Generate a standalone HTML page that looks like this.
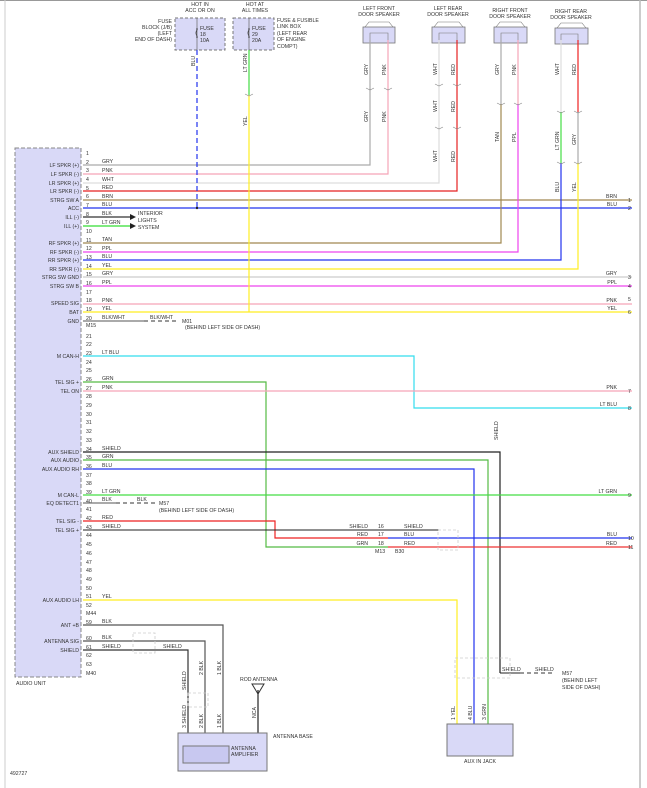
<!DOCTYPE html>
<html><head><meta charset="utf-8"><style>
html,body{margin:0;padding:0;background:#fff}
svg{display:block}
text{font-family:"Liberation Sans",sans-serif;font-size:5.2px;fill:#333}
.r{text-anchor:end}
.m{text-anchor:middle}
</style></head><body>
<svg width="647" height="788" viewBox="0 0 647 788" xmlns="http://www.w3.org/2000/svg">
<line x1="0" y1="0.5" x2="647" y2="0.5" stroke="#999" stroke-width="1"/>
<line x1="640" y1="0" x2="640" y2="788" stroke="#bbb" stroke-width="1.5"/>
<line x1="5" y1="0" x2="5" y2="788" stroke="#ccc" stroke-width="1"/>

<!-- Fuse boxes -->
<rect x="175" y="18" width="50" height="32" fill="#d9d9f7" stroke="#777" stroke-dasharray="3,2"/>
<rect x="233" y="18" width="41" height="32" fill="#d9d9f7" stroke="#777" stroke-dasharray="3,2"/>
<line x1="197" y1="18" x2="197" y2="50" stroke="#666" stroke-width="0.7"/>
<line x1="249" y1="18" x2="249" y2="50" stroke="#666" stroke-width="0.7"/>
<path d="M197 30 q-2 3 0 6 M249 30 q-2 3 0 6" fill="none" stroke="#333" stroke-width="0.8"/>
<circle cx="197" cy="29" r="0.8" fill="#333"/><circle cx="197" cy="37" r="0.8" fill="#333"/>
<circle cx="249" cy="29" r="0.8" fill="#333"/><circle cx="249" cy="37" r="0.8" fill="#333"/>
<text x="200" y="6" class="m">HOT IN</text><text x="200" y="12" class="m">ACC OR ON</text>
<text x="255" y="6" class="m">HOT AT</text><text x="255" y="12" class="m">ALL TIMES</text>
<text x="172" y="23" class="r">FUSE</text><text x="172" y="29" class="r">BLOCK (J/B)</text><text x="172" y="35" class="r">(LEFT</text><text x="172" y="41" class="r">END OF DASH)</text>
<text x="200" y="30">FUSE</text><text x="200" y="36">18</text><text x="200" y="42">10A</text>
<text x="252" y="30">FUSE</text><text x="252" y="36">29</text><text x="252" y="42">20A</text>
<text x="277" y="22">FUSE &amp; FUSIBLE</text><text x="277" y="28">LINK BOX</text><text x="277" y="35">(LEFT REAR</text><text x="277" y="41">OF ENGINE</text><text x="277" y="48">COMPT)</text>

<!-- Audio unit box -->
<rect x="15" y="148" width="66" height="529" fill="#d9d9f7" stroke="#888" stroke-dasharray="4,2"/>
<text x="16" y="685">AUDIO UNIT</text>
<text x="10" y="775">492727</text>

<!-- Speakers -->
<g fill="#d9d9f7" stroke="#777" stroke-width="0.8">
<rect x="363" y="27" width="32" height="16"/><rect x="432" y="27" width="33" height="16"/>
<rect x="494" y="27" width="33" height="16"/><rect x="555" y="28" width="33" height="16"/>
</g>
<g fill="none" stroke="#777" stroke-width="0.6">
<path d="M365 27 L369 22 L389 22 L393 27"/><path d="M434 27 L438 22 L459 22 L463 27"/>
<path d="M496 27 L500 22 L521 22 L525 27"/><path d="M557 28 L561 23 L582 23 L586 28"/>
<path d="M370 40 v-7 h18 v7"/><path d="M439 40 v-7 h18 v7"/><path d="M501 40 v-7 h17 v7"/><path d="M561 41 v-7 h17 v7"/>
</g>
<text x="379" y="10" class="m">LEFT FRONT</text><text x="379" y="16" class="m">DOOR SPEAKER</text>
<text x="448" y="10" class="m">LEFT REAR</text><text x="448" y="16" class="m">DOOR SPEAKER</text>
<text x="510" y="12" class="m">RIGHT FRONT</text><text x="510" y="18" class="m">DOOR SPEAKER</text>
<text x="571" y="13" class="m">RIGHT REAR</text><text x="571" y="19" class="m">DOOR SPEAKER</text>

<!-- Wires -->
<g fill="none" stroke-width="1.2">
<polyline points="83,165 370,165 370,40" stroke="#aaa"/>
<polyline points="83,174 388,174 388,40" stroke="#f5a5b8"/>
<polyline points="83,183 439,183 439,40" stroke="#ddd"/>
<polyline points="83,191 457,191 457,40" stroke="#e52222"/>
<polyline points="83,200 632,200" stroke="#a08850"/>
<polyline points="83,208 632,208" stroke="#2233ee"/>
<line x1="197" y1="50" x2="197" y2="208" stroke="#2233ee" stroke-dasharray="5,3"/>
<polyline points="83,217 130,217" stroke="#333"/>
<polyline points="83,226 130,226" stroke="#33dd33"/>
<polyline points="83,243 501,243 501,104" stroke="#a08850"/>
<line x1="501" y1="104" x2="501" y2="40" stroke="#aaa"/>
<polyline points="83,252 518,252 518,104" stroke="#ee44ee"/>
<line x1="518" y1="104" x2="518" y2="40" stroke="#f5a5b8"/>
<polyline points="83,260 561,260 561,163" stroke="#2233ee"/>
<line x1="561" y1="163" x2="561" y2="112" stroke="#44dd44"/>
<line x1="561" y1="112" x2="561" y2="40" stroke="#ddd"/>
<polyline points="83,269 578,269 578,163" stroke="#ffee22"/>
<line x1="578" y1="163" x2="578" y2="112" stroke="#aaa"/>
<line x1="578" y1="112" x2="578" y2="40" stroke="#ee2222"/>
<line x1="83" y1="277" x2="632" y2="277" stroke="#ccc"/>
<line x1="83" y1="286" x2="632" y2="286" stroke="#ee44ee"/>
<line x1="83" y1="304" x2="632" y2="304" stroke="#f5a5b8"/>
<line x1="83" y1="312" x2="632" y2="312" stroke="#ffee22"/>
<line x1="249" y1="50" x2="249" y2="95" stroke="#44dd44"/>
<line x1="249" y1="95" x2="249" y2="312" stroke="#ffee22"/>
<line x1="83" y1="321" x2="144" y2="321" stroke="#555" stroke-width="1"/>
<line x1="144" y1="321" x2="178" y2="321" stroke="#333" stroke-width="1" stroke-dasharray="4,3"/>
<polyline points="83,356 414,356 414,408 632,408" stroke="#33ddee"/>
<polyline points="83,382 266,382 266,547 388,547" stroke="#55bb44"/>
<line x1="83" y1="391" x2="632" y2="391" stroke="#f5a5b8"/>
<polyline points="83,452 500,452 500,673" stroke="#222"/>
<polyline points="83,460 488,460 488,724" stroke="#55bb44"/>
<polyline points="83,469 474,469 474,724" stroke="#2233ee"/>
<line x1="83" y1="495" x2="632" y2="495" stroke="#44dd44"/>
<line x1="83" y1="503" x2="116" y2="503" stroke="#555" stroke-width="1"/>
<line x1="116" y1="503" x2="155" y2="503" stroke="#333" stroke-width="1" stroke-dasharray="4,3"/>
<polyline points="83,521 275,521 275,538 388,538" stroke="#ee2222"/>
<polyline points="83,530 439,530" stroke="#222" stroke-width="1"/>
<line x1="388" y1="538" x2="632" y2="538" stroke="#2233ee"/>
<line x1="388" y1="547" x2="632" y2="547" stroke="#ee3333"/>
<polyline points="83,600 457,600 457,724" stroke="#ffee22"/>
<polyline points="83,625 223,625 223,733" stroke="#555"/>
<polyline points="83,641 205,641 205,733" stroke="#555"/>
<polyline points="83,650 188,650 188,733" stroke="#333"/>
<polyline points="500,673 520,673" stroke="#222" stroke-width="1"/>
<line x1="520" y1="673" x2="555" y2="673" stroke="#333" stroke-width="1" stroke-dasharray="4,3"/>
<line x1="258" y1="690" x2="258" y2="733" stroke="#222"/>
</g>
<!-- connector marks -->
<g fill="none" stroke="#888" stroke-width="0.6">
<path d="M366 88 l4 2 l4 -2 M384 88 l4 2 l4 -2"/>
<path d="M435 84 l4 2 l4 -2 M453 84 l4 2 l4 -2 M435 127 l4 2 l4 -2 M453 127 l4 2 l4 -2"/>
<path d="M497 103 l4 2 l4 -2 M514 103 l4 2 l4 -2"/>
<path d="M557 111 l4 2 l4 -2 M574 111 l4 2 l4 -2 M557 162 l4 2 l4 -2 M574 162 l4 2 l4 -2"/>
<path d="M245 94 l4 2 l4 -2"/>
</g>
<polygon points="130,214 136,217 130,220" fill="#222"/>
<polygon points="130,223 136,226 130,229" fill="#222"/>
<circle cx="197" cy="208" r="1.2" fill="#222"/>
<text x="138" y="215">INTERIOR</text><text x="138" y="222">LIGHTS</text><text x="138" y="229">SYSTEM</text>
<text x="150" y="319">BLK/WHT</text><text x="182" y="323">M01</text><text x="185" y="329">(BEHIND LEFT SIDE OF DASH)</text>
<text x="137" y="501">BLK</text><text x="159" y="505">M57</text><text x="159" y="512">(BEHIND LEFT SIDE OF DASH)</text>
<text x="502" y="671">SHIELD</text><text x="535" y="671">SHIELD</text><text x="562" y="675">M57</text><text x="562" y="682">(BEHIND LEFT</text><text x="562" y="689">SIDE OF DASH)</text>

<!-- shield dashed boxes -->
<g fill="none" stroke="#ccc" stroke-width="0.8" stroke-dasharray="3,2">
<rect x="438" y="530" width="20" height="20"/>
<rect x="455" y="658" width="55" height="20"/>
<rect x="133" y="633" width="22" height="20"/>
<rect x="188" y="693" width="20" height="14"/>
</g>

<!-- Aux jack -->
<rect x="447" y="724" width="66" height="32" fill="#d9d9f7" stroke="#777"/>
<text x="480" y="763" class="m">AUX IN JACK</text>
<!-- Antenna base -->
<rect x="178" y="733" width="89" height="38" fill="#d9d9f7" stroke="#777"/>
<rect x="183" y="746" width="46" height="17" fill="#c8c8f0" stroke="#777"/>
<text x="231" y="750">ANTENNA</text><text x="231" y="756">AMPLIFIER</text>
<text x="273" y="738">ANTENNA BASE</text>
<polygon points="252,684 264,684 258,694" fill="none" stroke="#333"/>
<text x="240" y="681">ROD ANTENNA</text>

<!-- Right numbers -->
<g>
<text x="628" y="202">1</text><text x="628" y="210">2</text><text x="628" y="279">3</text><text x="628" y="288">4</text>
<text x="628" y="301">5</text><text x="628" y="314">6</text><text x="628" y="393">7</text><text x="628" y="410">8</text>
<text x="628" y="497">9</text><text x="628" y="540">10</text><text x="628" y="549">11</text>
</g>
<g>
<text x="617" y="198" class="r">BRN</text><text x="617" y="206" class="r">BLU</text><text x="617" y="275" class="r">GRY</text>
<text x="617" y="284" class="r">PPL</text><text x="617" y="302" class="r">PNK</text><text x="617" y="310" class="r">YEL</text>
<text x="617" y="389" class="r">PNK</text><text x="617" y="406" class="r">LT BLU</text><text x="617" y="493" class="r">LT GRN</text>
<text x="617" y="536" class="r">BLU</text><text x="617" y="545" class="r">RED</text>
</g>
<!-- connector labels -->
<text x="368" y="528" class="r">SHIELD</text><text x="368" y="536" class="r">RED</text><text x="368" y="545" class="r">GRN</text>
<text x="378" y="528">16</text><text x="378" y="536">17</text><text x="378" y="545">18</text>
<text x="404" y="528">SHIELD</text><text x="404" y="536">BLU</text><text x="404" y="545">RED</text>
<text x="375" y="553">M13</text><text x="395" y="553">B30</text>

<!-- Wire color labels -->
<g>
<text x="102" y="163">GRY</text><text x="102" y="172">PNK</text><text x="102" y="181">WHT</text><text x="102" y="189">RED</text>
<text x="102" y="198">BRN</text><text x="102" y="206">BLU</text><text x="102" y="215">BLK</text><text x="102" y="224">LT GRN</text>
<text x="102" y="241">TAN</text><text x="102" y="250">PPL</text><text x="102" y="258">BLU</text><text x="102" y="267">YEL</text>
<text x="102" y="275">GRY</text><text x="102" y="284">PPL</text><text x="102" y="302">PNK</text><text x="102" y="310">YEL</text>
<text x="102" y="319">BLK/WHT</text><text x="102" y="354">LT BLU</text><text x="102" y="380">GRN</text><text x="102" y="389">PNK</text>
<text x="102" y="450">SHIELD</text><text x="102" y="458">GRN</text><text x="102" y="467">BLU</text><text x="102" y="493">LT GRN</text>
<text x="102" y="501">BLK</text><text x="102" y="519">RED</text><text x="102" y="528">SHIELD</text><text x="102" y="598">YEL</text>
<text x="102" y="623">BLK</text><text x="102" y="639">BLK</text><text x="102" y="648">SHIELD</text><text x="163" y="648">SHIELD</text>
</g>

<!-- Pin numbers -->
<g>
<text x="86" y="155">1</text><text x="86" y="164">2</text><text x="86" y="172">3</text><text x="86" y="181">4</text><text x="86" y="190">5</text>
<text x="86" y="198">6</text><text x="86" y="207">7</text><text x="86" y="216">8</text><text x="86" y="224">9</text><text x="86" y="233">10</text>
<text x="86" y="242">11</text><text x="86" y="250">12</text><text x="86" y="259">13</text><text x="86" y="268">14</text><text x="86" y="276">15</text>
<text x="86" y="285">16</text><text x="86" y="294">17</text><text x="86" y="302">18</text><text x="86" y="311">19</text><text x="86" y="320">20</text>
<text x="86" y="327">M15</text>
<text x="86" y="338">21</text><text x="86" y="346">22</text><text x="86" y="355">23</text><text x="86" y="364">24</text><text x="86" y="372">25</text>
<text x="86" y="381">26</text><text x="86" y="390">27</text><text x="86" y="398">28</text><text x="86" y="407">29</text><text x="86" y="416">30</text>
<text x="86" y="424">31</text><text x="86" y="433">32</text><text x="86" y="442">33</text><text x="86" y="451">34</text><text x="86" y="459">35</text>
<text x="86" y="468">36</text><text x="86" y="477">37</text><text x="86" y="485">38</text><text x="86" y="494">39</text><text x="86" y="503">40</text>
<text x="86" y="511">41</text><text x="86" y="520">42</text><text x="86" y="529">43</text><text x="86" y="537">44</text><text x="86" y="546">45</text>
<text x="86" y="555">46</text><text x="86" y="564">47</text><text x="86" y="572">48</text><text x="86" y="581">49</text><text x="86" y="590">50</text>
<text x="86" y="598">51</text><text x="86" y="607">52</text><text x="86" y="615">M44</text>
<text x="86" y="624">59</text><text x="86" y="640">60</text><text x="86" y="649">61</text><text x="86" y="657">62</text><text x="86" y="666">63</text><text x="86" y="675">M40</text>
</g>
<!-- function labels -->
<g>
<text x="79" y="167" class="r">LF SPKR (+)</text><text x="79" y="176" class="r">LF SPKR (-)</text><text x="79" y="185" class="r">LR SPKR (+)</text>
<text x="79" y="193" class="r">LR SPKR (-)</text><text x="79" y="202" class="r">STRG SW A</text><text x="79" y="210" class="r">ACC</text>
<text x="79" y="219" class="r">ILL (-)</text><text x="79" y="228" class="r">ILL (+)</text>
<text x="79" y="245" class="r">RF SPKR (+)</text><text x="79" y="254" class="r">RF SPKR (-)</text><text x="79" y="262" class="r">RR SPKR (+)</text>
<text x="79" y="271" class="r">RR SPKR (-)</text><text x="79" y="279" class="r">STRG SW GND</text><text x="79" y="288" class="r">STRG SW B</text>
<text x="79" y="305" class="r">SPEED SIG</text><text x="79" y="314" class="r">BAT</text><text x="79" y="323" class="r">GND</text>
<text x="79" y="358" class="r">M CAN-H</text><text x="79" y="384" class="r">TEL SIG +</text><text x="79" y="393" class="r">TEL ON</text>
<text x="79" y="454" class="r">AUX SHIELD</text><text x="79" y="462" class="r">AUX AUDIO</text><text x="79" y="471" class="r">AUX AUDIO RH</text>
<text x="79" y="497" class="r">M CAN-L</text><text x="79" y="505" class="r">EQ DETECT1</text><text x="79" y="523" class="r">TEL SIG -</text>
<text x="79" y="532" class="r">TEL SIG +</text><text x="79" y="602" class="r">AUX AUDIO LH</text><text x="79" y="627" class="r">ANT +B</text>
<text x="79" y="643" class="r">ANTENNA SIG</text><text x="79" y="652" class="r">SHIELD</text>
</g>

<!-- vertical labels -->
<g>
<text transform="translate(368,75) rotate(-90)">GRY</text><text transform="translate(386,75) rotate(-90)">PNK</text>
<text transform="translate(368,122) rotate(-90)">GRY</text><text transform="translate(386,122) rotate(-90)">PNK</text>
<text transform="translate(437,75) rotate(-90)">WHT</text><text transform="translate(455,75) rotate(-90)">RED</text>
<text transform="translate(437,112) rotate(-90)">WHT</text><text transform="translate(455,112) rotate(-90)">RED</text>
<text transform="translate(437,162) rotate(-90)">WHT</text><text transform="translate(455,162) rotate(-90)">RED</text>
<text transform="translate(499,75) rotate(-90)">GRY</text><text transform="translate(516,75) rotate(-90)">PNK</text>
<text transform="translate(499,142) rotate(-90)">TAN</text><text transform="translate(516,142) rotate(-90)">PPL</text>
<text transform="translate(559,75) rotate(-90)">WHT</text><text transform="translate(576,75) rotate(-90)">RED</text>
<text transform="translate(559,150) rotate(-90)">LT GRN</text><text transform="translate(576,145) rotate(-90)">GRY</text>
<text transform="translate(559,192) rotate(-90)">BLU</text><text transform="translate(576,192) rotate(-90)">YEL</text>
<text transform="translate(195,66) rotate(-90)">BLU</text><text transform="translate(247,72) rotate(-90)">LT GRN</text>
<text transform="translate(247,126) rotate(-90)">YEL</text><text transform="translate(498,440) rotate(-90)">SHIELD</text>
<text transform="translate(455,720) rotate(-90)">1  YEL</text><text transform="translate(472,720) rotate(-90)">4  BLU</text><text transform="translate(486,720) rotate(-90)">3  GRN</text>
<text transform="translate(186,690) rotate(-90)">SHIELD</text><text transform="translate(203,675) rotate(-90)">2  BLK</text><text transform="translate(221,675) rotate(-90)">1  BLK</text>
<text transform="translate(186,728) rotate(-90)">3 SHIELD</text><text transform="translate(203,728) rotate(-90)">2  BLK</text><text transform="translate(221,728) rotate(-90)">1  BLK</text>
<text transform="translate(256,718) rotate(-90)">NCA</text>
</g>
</svg>
</body></html>
